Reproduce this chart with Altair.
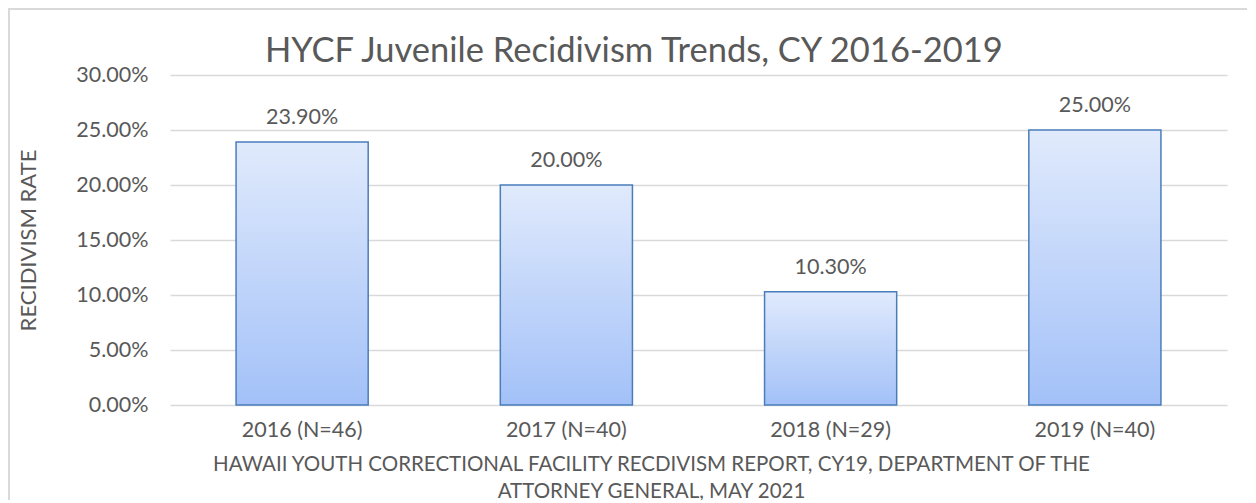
import altair as alt
import pandas as pd

categories = ["2016 (N=46)", "2017 (N=40)", "2018 (N=29)", "2019 (N=40)"]
rates = [0.239, 0.200, 0.103, 0.250]
labels = ["23.90%", "20.00%", "10.30%", "25.00%"]

df = pd.DataFrame({"cat": categories, "rate": rates, "label": labels})

FONT = "Lato"
GRAY = "#595959"
W, H = 1057, 330

base = alt.Chart(df)

bars = base.mark_bar(
    color=alt.Gradient(
        gradient="linear",
        stops=[alt.GradientStop(color="#e0eafc", offset=0),
               alt.GradientStop(color="#a3c1f8", offset=1)],
        x1=0, x2=0, y1=0, y2=1,
    ),
    stroke="#4a7ebb",
    strokeWidth=1.5,
).encode(
    x=alt.X("cat:N", sort=categories,
            scale=alt.Scale(paddingInner=0.5, paddingOuter=0.25),
            axis=alt.Axis(
                title=["HAWAII YOUTH CORRECTIONAL FACILITY RECDIVISM REPORT, CY19, DEPARTMENT OF THE",
                       "ATTORNEY GENERAL, MAY 2021"],
                labelAngle=0, labelFontSize=21.5, labelColor=GRAY, labelFont=FONT,
                labelPadding=14, ticks=False, domain=False,
                titleFontSize=20.5, titleFont=FONT, titleColor=GRAY, titleFontWeight="normal",
                titleX=481, titleY=65, titleAlign="center", titleBaseline="alphabetic",
                titleLineHeight=27,
            )),
    y=alt.Y("rate:Q",
            scale=alt.Scale(domain=[0, 0.30]),
            axis=alt.Axis(
                title="RECIDIVISM RATE", format=".2%", values=[0, 0.05, 0.10, 0.15, 0.20, 0.25, 0.30],
                labelFontSize=21.5, labelColor=GRAY, labelFont=FONT, labelPadding=22,
                ticks=False, domain=False, gridColor="#d9d9d9", gridWidth=1.5,
                titleFontSize=22, titleFont=FONT, titleColor=GRAY, titleFontWeight="normal",
                titleX=-142, titleY=165, titleAlign="center", titleBaseline="middle",
            )),
)

text = base.mark_text(
    font=FONT, fontSize=21.5, color=GRAY, baseline="bottom", dy=-13
).encode(
    x=alt.X("cat:N", sort=categories),
    y="rate:Q",
    text="label:N",
)

border = alt.Chart(df).mark_rect(
    fill="transparent", stroke="#d9d9d9", strokeWidth=2, clip=False
).encode(
    x=alt.value(-161), x2=alt.value(W + 100),
    y=alt.value(-66), y2=alt.value(H + 150),
)

chart = alt.layer(border, bars, text).properties(
    width=W, height=H,
    title=alt.Title("HYCF Juvenile Recidivism Trends, CY 2016-2019",
                    fontSize=34.5, font=FONT, color=GRAY, fontWeight="normal",
                    anchor="start", dx=95, offset=-88, baseline="alphabetic", frame="group"),
    autosize=alt.AutoSizeParams(type="none"),
    padding={"left": 162, "top": 67, "right": 20, "bottom": 95},
).configure_view(stroke=None)

chart.save("out.html", embed_options={"renderer": "svg", "actions": False})
